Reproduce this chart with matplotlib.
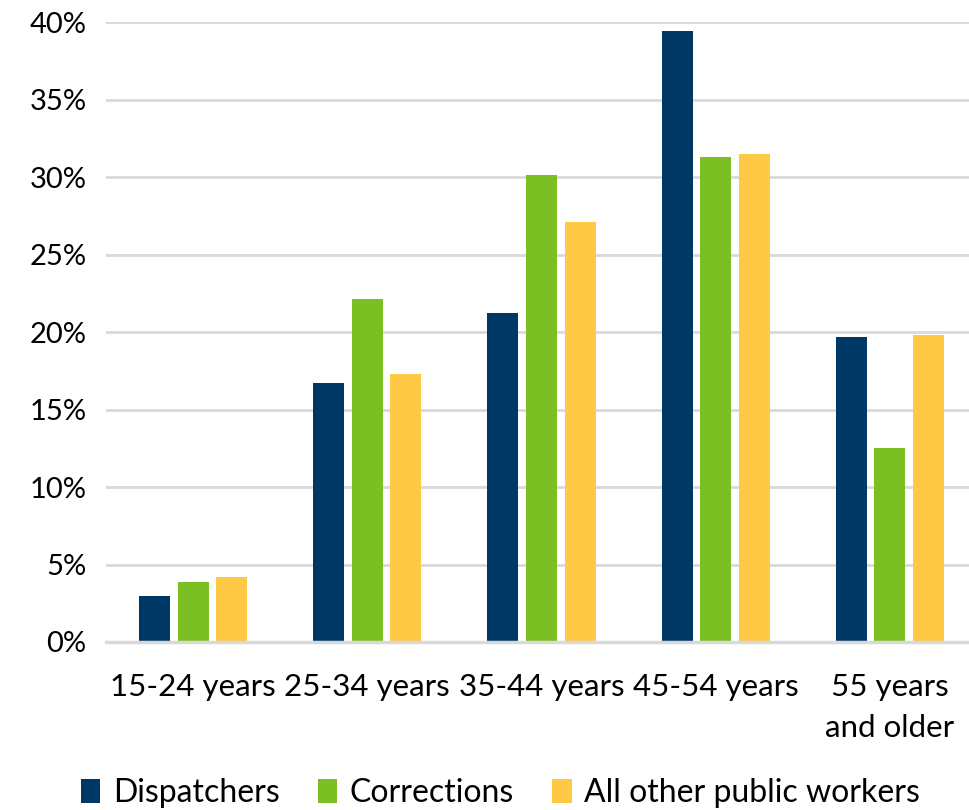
import numpy as np
import matplotlib.pyplot as plt
from matplotlib.ticker import PercentFormatter

categories = ["15-24 years", "25-34 years", "35-44 years", "45-54 years", "55 years\nand older"]
series_names = ["Dispatchers", "Corrections", "All other public workers"]
dispatchers = [3.0, 16.7, 21.2, 39.4, 19.7]
corrections = [3.9, 22.1, 30.1, 31.3, 12.5]
all_other = [4.2, 17.3, 27.1, 31.5, 19.8]
colors = ["#003865", "#7BBF22", "#FFC845"]

plt.rcParams['font.family'] = ['Lato', 'DejaVu Sans']

fig = plt.figure(figsize=(9.7, 8.1), dpi=100)
# axes slightly wider than the figure: the reference is cropped on the right
ax = fig.add_axes([106 / 970, 1 - 642 / 810, (977 - 106) / 970, (642 - 22) / 810])

x = np.arange(len(categories))
width = 0.178
step = 0.222
for i, (vals, name) in enumerate(zip([dispatchers, corrections, all_other], series_names)):
    ax.bar(x + (i - 1) * step, vals, width, color=colors[i], label=name, zorder=3)

ax.set_xlim(-0.5, len(categories) - 0.5)
ax.set_ylim(0, 40)
ax.set_yticks(np.arange(0, 41, 5))
ax.yaxis.set_major_formatter(PercentFormatter(decimals=0))
ax.grid(axis='y', color='#D9D9D9', linewidth=2, zorder=0)
ax.set_xticks(x)
ax.set_xticklabels(categories, fontsize=22.5, linespacing=1.6)
ax.tick_params(axis='y', labelsize=21, length=0, pad=14)
ax.tick_params(axis='x', length=0, pad=22)
for side in ['top', 'right', 'left']:
    ax.spines[side].set_visible(False)
ax.spines['bottom'].set_color('#D9D9D9')
ax.spines['bottom'].set_linewidth(2.5)
ax.spines['bottom'].set_zorder(4)

fig.legend(loc='center', bbox_to_anchor=(0.516, 1 - 793 / 810), ncol=3, frameon=False,
           fontsize=23, handlelength=0.6, handleheight=0.8, handletextpad=0.4,
           columnspacing=1.2)

fig.savefig("out.png", dpi=100)
